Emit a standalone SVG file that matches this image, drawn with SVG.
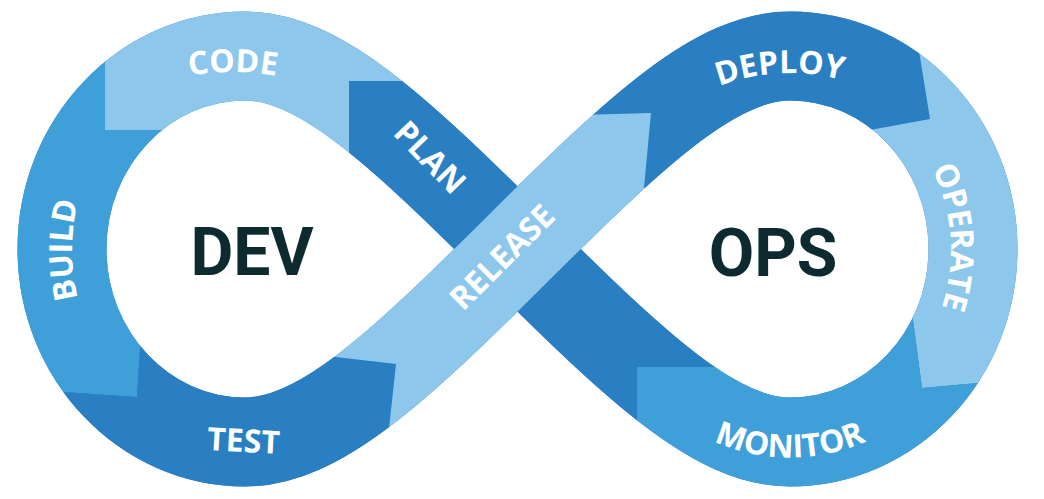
<svg xmlns="http://www.w3.org/2000/svg" width="1044" height="499" viewBox="0 0 1044 499">
<defs>
<style>
.band{fill:none;stroke-width:89;stroke-linecap:butt}
.lt{stroke:#8EC7EC}.md{stroke:#3F9FD8}.dk{stroke:#2A7FC3}
.lbl{font-family:"Open Sans","Liberation Sans",sans-serif;font-weight:700;font-size:32px;fill:#FFFFFF}
.big{font-family:Roboto,"Liberation Sans",sans-serif;font-weight:700;font-size:66px;fill:#0D2B2F;text-anchor:middle}
</style>
<clipPath id="cCode"><polygon points="105,-20 105,130 220,130 220,260 349,260 349,81 600,81 600,-20"/></clipPath>
<clipPath id="cPlan"><polygon points="349,81 1100,81 1100,367 637,367 637,600 349,600"/></clipPath>
<clipPath id="cBuild"><polygon points="-20,-20 105,-20 105,130 200,130 142,320 140,350 137,397 63,392 -20,386"/></clipPath>
<clipPath id="cTest"><polygon points="-20,386 63,392 137,397 146,250 300,250 300,353 396,364 379,520 -20,520"/></clipPath>
<clipPath id="cRelease"><polygon points="379,520 396,364 250,347 250,116 579,115 651,113 645,177 633,300 633,520"/></clipPath>
<clipPath id="cDeploy"><polygon points="450,118 651,113 645,177 645,250 800,250 870,130 930,119 920,57 908,-20 450,-20"/></clipPath>
<clipPath id="cOperate"><polygon points="908,-20 920,57 930,119 870,130 800,250 904,250 913,320 922,388 978,383 1060,376 1060,-20"/></clipPath>
<clipPath id="cMonitor"><polygon points="637,367 800,365 904,250 913,320 922,388 978,383 1060,376 1060,600 637,600"/></clipPath>
<path id="arcCode" d="M-17,322 A250,250 0 0 1 483,322"/>
<path id="arcDeploy" d="M590,273 A200,200 0 0 1 990,273"/>
<path id="arcMonitor" d="M603,270.5 A187,187 0 0 0 977,270.5"/>
<path id="arcOperate" d="M769,68 A182,182 0 0 1 769,432"/>
<path id="arcBuild" d="M266,444 A194,194 0 0 1 266,56"/>
</defs>
<rect width="1044" height="499" fill="#FFFFFF"/>
<g id="base">
<path class="band dk" d="M517.5,249 C395,127 318,56 245,56 C144,56 62,142.5 62,249 C62,355.5 144,442 245,442 C318,442 395,371 517.5,249 C640,127 717,56 790,56 C891,56 973,142.5 973,249 C973,355.5 891,442 790,442 C717,442 640,371 517.5,249 Z"/>
</g>
<g id="code">
<path class="band lt" clip-path="url(#cCode)" d="M517.5,249 C395,127 318,56 245,56 C144,56 62,142.5 62,249"/>
<text class="lbl"><textPath href="#arcCode" startOffset="50%" text-anchor="middle">CODE</textPath></text>
</g>
<g id="build">
<path class="band md" clip-path="url(#cBuild)" d="M245,56 C144,56 62,142.5 62,249 C62,355.5 144,442 245,442"/>
<text class="lbl"><textPath href="#arcBuild" startOffset="50%" text-anchor="middle">BUILD</textPath></text>
</g>
<g id="test">
<path class="band dk" clip-path="url(#cTest)" d="M62,249 C62,355.5 144,442 245,442 C318,442 395,371 517.5,249"/>
<text class="lbl" x="243" y="452" text-anchor="middle" transform="rotate(3 243 452)">TEST</text>
</g>
<g id="deploy">
<path class="band dk" clip-path="url(#cDeploy)" d="M517.5,249 C640,127 717,56 790,56 C891,56 973,142.5 973,249"/>
<text class="lbl"><textPath href="#arcDeploy" startOffset="304" text-anchor="middle">DEPLOY</textPath></text>
</g>
<g id="operate">
<path class="band lt" clip-path="url(#cOperate)" d="M790,56 C891,56 973,142.5 973,249 C973,355.5 891,442 790,442"/>
<text class="lbl"><textPath href="#arcOperate" startOffset="273" text-anchor="middle">OPERATE</textPath></text>
</g>
<g id="monitor">
<path class="band md" clip-path="url(#cMonitor)" d="M973,249 C973,355.5 891,442 790,442 C717,442 640,371 517.5,249"/>
<text class="lbl"><textPath href="#arcMonitor" startOffset="50%" text-anchor="middle">MONITOR</textPath></text>
</g>
<g id="plan">
<path class="band dk" clip-path="url(#cPlan)" d="M790,442 C717,442 640,371 517.5,249 C395,127 318,56 245,56"/>
<text class="lbl" x="422" y="165" text-anchor="middle" transform="rotate(46 422 165)">PLAN</text>
</g>
<g id="release">
<path class="band lt" clip-path="url(#cRelease)" d="M245,442 C318,442 395,371 517.5,249 C640,127 717,56 790,56"/>
<text class="lbl" x="510" y="265" text-anchor="middle" transform="rotate(-45 510 265)">RELEASE</text>
</g>
<g id="dev"><text class="big" x="252" y="275">DEV</text></g>
<g id="ops"><text class="big" x="773" y="276">OPS</text></g>
</svg>
